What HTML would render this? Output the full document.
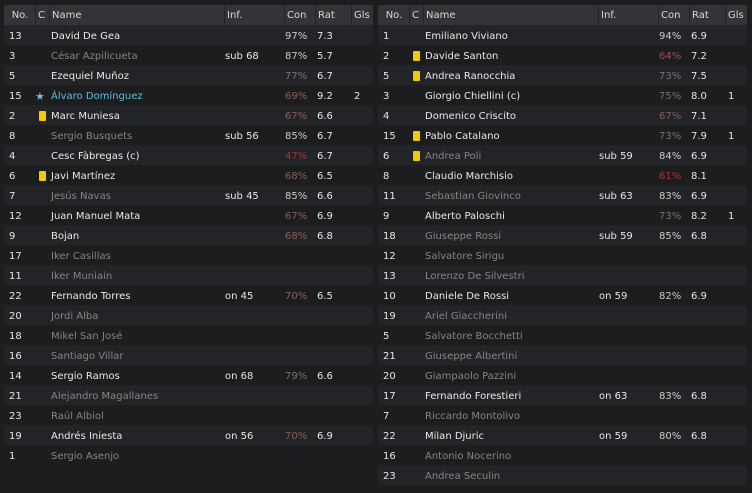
<!DOCTYPE html>
<html><head><meta charset="utf-8"><style>
body{margin:0;width:752px;height:493px;background:#1c1d1f;overflow:hidden;font-family:"DejaVu Sans","Liberation Sans",sans-serif;font-size:10px;color:#e6e6e6;position:relative}
.p{position:absolute;top:5px;width:369px}
.h{position:absolute;left:0;top:0;width:369px;height:21px;background:#323438}
.h span{position:absolute;top:1px;height:20px;line-height:20px;color:#d8d8d8;border-left:1px solid #222326;padding-left:2px}
.r{position:absolute;left:0;width:369px;height:20px;line-height:20px}
.r.o{background:#232427}
.r span{position:absolute;top:2px;white-space:nowrap}
.y{position:absolute;top:6px;width:7px;height:10px;background:#f2cc00;border-radius:1px}
</style></head><body>
<div class="p" id="L" style="left:4px"></div>
<div class="p" id="R" style="left:378px"></div>
<script>
function cc(c){var v=parseInt(c);if(v<65)return v<=61?'#a83434':'#9a5252';if(v<=70)return '#8a5c5c';if(v<80)return '#747474';return '#cacaca';}
function build(id,rows){
 var p=document.getElementById(id),h='<div class="h">';
 var hs=[['No.',0,31,'center'],['C',31,14],['Name',45,175],['Inf.',220,60],['Con',280,31],['Rat',311,36],['Gls',347,22]];
 hs.forEach(function(x){h+='<span style="left:'+x[1]+'px;width:'+(x[2]-3)+'px;'+(x[3]?'text-align:center;border-left:none':'')+'">'+x[0]+'</span>';});
 h+='</div>';
 rows.forEach(function(r,i){
  var y=20+i*20;var dim=r[3];var nc=dim?'#858585':(r[1]=='s'?'#5fbde0':'#e8e8e8');
  h+='<div class="r'+(i%2==0?' o':'')+'" style="top:'+y+'px">';
  h+='<span style="left:5px">'+r[0]+'</span>';
  if(r[1]=='y')h+='<div class="y" style="left:35px"></div>';
  if(r[1]=='s')h+='<span style="left:31px;color:#7fb2e0;font-size:11px">★</span>';
  h+='<span style="left:47px;color:'+nc+'">'+r[2]+'</span>';
  if(r[4])h+='<span style="left:221px">'+r[4]+'</span>';
  if(r[5])h+='<span style="left:281px;color:'+cc(r[5])+'">'+r[5]+'%</span>';
  if(r[6])h+='<span style="left:313px">'+r[6]+'</span>';
  if(r[7])h+='<span style="left:350px">'+r[7]+'</span>';
  h+='</div>';
 });
 p.innerHTML=h;
}
build('L',[
['13','','David De Gea',0,'','97','7.3'],
['3','','César Azpilicueta',1,'sub 68','87','5.7'],
['5','','Ezequiel Muñoz',0,'','77','6.7'],
['15','s','Álvaro Domínguez',0,'','69','9.2','2'],
['2','y','Marc Muniesa',0,'','67','6.6'],
['8','','Sergio Busquets',1,'sub 56','85','6.7'],
['4','','Cesc Fàbregas (c)',0,'','47','6.7'],
['6','y','Javi Martínez',0,'','68','6.5'],
['7','','Jesús Navas',1,'sub 45','85','6.6'],
['12','','Juan Manuel Mata',0,'','67','6.9'],
['9','','Bojan',0,'','68','6.8'],
['17','','Iker Casillas',1],
['11','','Iker Muniain',1],
['22','','Fernando Torres',0,'on 45','70','6.5'],
['20','','Jordi Alba',1],
['18','','Mikel San José',1],
['16','','Santiago Villar',1],
['14','','Sergio Ramos',0,'on 68','79','6.6'],
['21','','Alejandro Magallanes',1],
['23','','Raúl Albiol',1],
['19','','Andrés Iniesta',0,'on 56','70','6.9'],
['1','','Sergio Asenjo',1]
]);
build('R',[
['1','','Emiliano Viviano',0,'','94','6.9'],
['2','y','Davide Santon',0,'','64','7.2'],
['5','y','Andrea Ranocchia',0,'','73','7.5'],
['3','','Giorgio Chiellini (c)',0,'','75','8.0','1'],
['4','','Domenico Criscito',0,'','67','7.1'],
['15','y','Pablo Catalano',0,'','73','7.9','1'],
['6','y','Andrea Poli',1,'sub 59','84','6.9'],
['8','','Claudio Marchisio',0,'','61','8.1'],
['11','','Sebastian Giovinco',1,'sub 63','83','6.9'],
['9','','Alberto Paloschi',0,'','73','8.2','1'],
['18','','Giuseppe Rossi',1,'sub 59','85','6.8'],
['12','','Salvatore Sirigu',1],
['13','','Lorenzo De Silvestri',1],
['10','','Daniele De Rossi',0,'on 59','82','6.9'],
['19','','Ariel Giaccherini',1],
['5','','Salvatore Bocchetti',1],
['21','','Giuseppe Albertini',1],
['20','','Giampaolo Pazzini',1],
['17','','Fernando Forestieri',0,'on 63','83','6.8'],
['7','','Riccardo Montolivo',1],
['22','','Milan Djuric',0,'on 59','80','6.8'],
['16','','Antonio Nocerino',1],
['23','','Andrea Seculin',1]
]);
</script>
</body></html>
